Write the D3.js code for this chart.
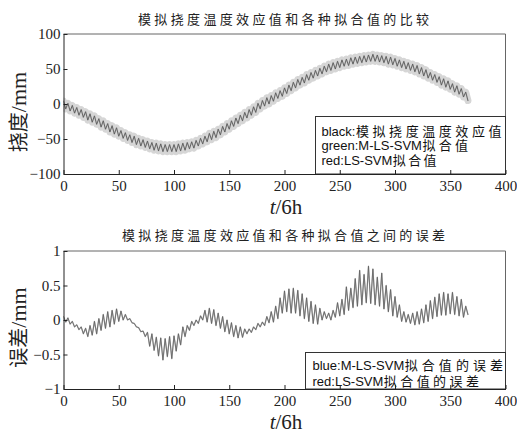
<!DOCTYPE html>
<html>
<head>
<meta charset="utf-8">
<script src="https://cdn.jsdelivr.net/npm/d3@7"></script>
<style>
  html, body { margin: 0; padding: 0; background: #fff; }
  svg { display: block; }
</style>
</head>
<body>
<svg id="chart" width="517" height="434"></svg>
<script>
// ---------------- data ----------------
// time index t (unit: 6 h), one value every 2 steps
const timeStep = 2;
// simulated deflection temperature effect (black), mm
const deflection = [
  4, -7, 1, -10, -2,
  -13, -5, -16, -8, -19,
  -11, -23, -14, -26, -17,
  -29, -21, -33, -24, -36,
  -28, -40, -31, -43, -34,
  -46, -38, -49, -41, -52,
  -44, -55, -46, -58, -49,
  -60, -51, -62, -53, -64,
  -55, -66, -56, -67, -57,
  -68, -58, -68, -58, -68,
  -58, -68, -57, -67, -56,
  -66, -55, -64, -54, -63,
  -52, -60, -49, -57, -46,
  -54, -42, -51, -39, -48,
  -36, -44, -32, -40, -28,
  -36, -24, -32, -20, -28,
  -16, -24, -12, -20, -8,
  -16, -4, -12, 1, -7,
  5, -3, 9, 0, 12,
  4, 16, 8, 19, 11,
  23, 15, 27, 19, 31,
  23, 35, 27, 38, 30,
  42, 34, 45, 37, 48,
  40, 51, 43, 54, 46,
  57, 48, 59, 50, 61,
  52, 63, 54, 64, 55,
  66, 57, 67, 58, 68,
  59, 69, 60, 70, 61,
  71, 61, 70, 60, 69,
  59, 68, 57, 67, 56,
  65, 54, 63, 52, 61,
  50, 59, 48, 57, 46,
  55, 43, 52, 40, 49,
  37, 45, 34, 42, 31,
  39, 27, 36, 24, 33,
  21, 29, 17, 26, 14,
  22, 10, 17, 5
];
// M-LS-SVM (green) and LS-SVM (red) fits coincide with the simulated values at this scale
const fitMLSSVM = deflection;
const fitLSSVM = deflection;

// errors between simulated values and fits, mm
const errorValues = [
  0.05, -0.03, 0.03, -0.06, -0.02,
  -0.10, -0.07, -0.14, -0.10, -0.20,
  -0.12, -0.24, -0.08, -0.22, -0.02,
  -0.20, 0.02, -0.15, 0.08, -0.12,
  0.12, -0.10, 0.14, -0.06, 0.16,
  -0.02, 0.13, 0.00, 0.08, 0.00,
  0.02, -0.04, -0.05, -0.10, -0.11,
  -0.17, -0.16, -0.24, -0.18, -0.38,
  -0.20, -0.44, -0.25, -0.52, -0.26,
  -0.58, -0.27, -0.53, -0.24, -0.56,
  -0.23, -0.45, -0.20, -0.36, -0.10,
  -0.24, -0.08, -0.15, -0.02, -0.08,
  0.00, -0.05, 0.06, 0.00, 0.14,
  -0.03, 0.17, -0.05, 0.15, -0.08,
  0.10, -0.12, 0.05, -0.17, 0.00,
  -0.20, -0.04, -0.24, -0.08, -0.26,
  -0.10, -0.25, -0.13, -0.20, -0.13,
  -0.18, -0.10, -0.14, -0.05, -0.10,
  -0.03, -0.08, 0.05, -0.04, 0.12,
  -0.03, 0.20, 0.02, 0.32, 0.10,
  0.42, 0.12, 0.45, 0.10, 0.46,
  0.10, 0.43, 0.06, 0.38, 0.02,
  0.32, -0.02, 0.27, -0.05, 0.22,
  -0.06, 0.17, 0.00, 0.12, 0.02,
  0.10, 0.00, 0.14, 0.04, 0.25,
  0.06, 0.30, 0.08, 0.48, 0.14,
  0.46, 0.18, 0.60, 0.20, 0.72,
  0.22, 0.66, 0.25, 0.78, 0.24,
  0.74, 0.22, 0.62, 0.20, 0.68,
  0.16, 0.50, 0.12, 0.44, 0.06,
  0.34, 0.04, 0.22, -0.02, 0.12,
  -0.03, 0.08, -0.05, 0.10, -0.07,
  0.12, -0.06, 0.16, -0.04, 0.22,
  -0.02, 0.28, 0.02, 0.33, 0.05,
  0.38, 0.07, 0.40, 0.07, 0.38,
  0.09, 0.40, 0.08, 0.34, 0.06,
  0.30, 0.04, 0.20, 0.08
];

const xTicks = [0, 50, 100, 150, 200, 250, 300, 350, 400];
const yTicksTop = [-100, -50, 0, 50, 100];
const yTicksBottom = [-1, -0.5, 0, 0.5, 1];

const title1 = "模拟挠度温度效应值和各种拟合值的比较";
const title2 = "模拟挠度温度效应值和各种拟合值之间的误差";
const legendTop = [
  ["black:", "模拟挠度温度效应值"],
  ["green:M-LS-SVM", "拟合值"],
  ["red:LS-SVM", "拟合值"]
];
const legendBottom = [
  ["blue:M-LS-SVM", "拟合值的误差"],
  ["red:LS-SVM", "拟合值的误差"]
];

// ---------------- drawing ----------------
const SERIF = '"Liberation Serif", "Times New Roman", serif';
const SANS = '"Liberation Sans", Arial, sans-serif';
const CJK = '"Noto Sans CJK SC", sans-serif';

const svg = d3.select("#chart");
svg.append("rect").attr("width", 517).attr("height", 434).attr("fill", "#fff");

const x = d3.scaleLinear().domain([0, 400]).range([63.5, 505.5]);

function panel(opts) {
  const { yDomain, yRange, yTicks, series, title, titleY, titleSpan, ylabel, ylabelY,
          xlabelY, legend, legendBox, legendRows, legendEnds, legendTextX } = opts;
  const y = d3.scaleLinear().domain(yDomain).range(yRange);
  const g = svg.append("g");

  // title
  g.append("text")
    .attr("x", titleSpan[0]).attr("y", titleY)
    .style("font-family", CJK).style("font-size", "13px")
    .attr("fill", "#222")
    .attr("textLength", titleSpan[1] - titleSpan[0]).attr("lengthAdjust", "spacing")
    .text(title);

  // series
  const clipId = "clip" + Math.round(titleY);
  svg.append("clipPath").attr("id", clipId).append("rect")
    .attr("x", x.range()[0]).attr("y", yRange[1])
    .attr("width", x.range()[1] - x.range()[0]).attr("height", yRange[0] - yRange[1]);
  series.forEach(s => {
    const line = d3.line().x((d, i) => x(i * timeStep)).y(d => y(d));
    g.append("path")
      .attr("clip-path", `url(#${clipId})`)
      .attr("d", line(s.values))
      .attr("fill", "none")
      .attr("stroke", s.color)
      .attr("stroke-width", s.width)
      .attr("stroke-linejoin", "round")
      .attr("stroke-linecap", "round");
  });

  // box (top/right)
  g.append("path")
    .attr("d", `M${x.range()[0]},${yRange[1]}H${x.range()[1]}V${yRange[0]}`)
    .attr("fill", "none").attr("stroke", "#666").attr("stroke-width", 1);

  // legend: one text block, each row a Latin part and a CJK part
  const lb = g.append("g");
  lb.append("rect")
    .attr("x", legendBox[0]).attr("y", legendBox[1])
    .attr("width", legendBox[2]).attr("height", legendBox[3])
    .attr("fill", "#fff").attr("stroke", "#333").attr("stroke-width", 1);
  const lt = lb.append("text").style("font-size", "13px").attr("fill", "#111");
  legend.forEach((row, i) => {
    const a = lt.append("tspan")
      .attr("x", legendTextX).attr("y", legendRows[i])
      .style("font-family", SANS)
      .text(row[0]);
    const w = a.node().getComputedTextLength();
    const start = legendTextX + w + 0.5;
    lt.append("tspan")
      .attr("x", start).attr("y", legendRows[i])
      .style("font-family", CJK)
      .attr("textLength", legendEnds[i] - start).attr("lengthAdjust", "spacing")
      .text(row[1]);
  });

  // axes
  const xAxis = d3.axisBottom(x).tickValues(xTicks).tickSizeInner(-4).tickSizeOuter(0)
    .tickPadding(6).tickFormat(d3.format("d"));
  const xg = g.append("g").attr("transform", `translate(0,${yRange[0]})`).call(xAxis);
  const yAxis = d3.axisLeft(y).tickValues(yTicks).tickSizeInner(-4).tickSizeOuter(0)
    .tickPadding(3).tickFormat(d => (d === 0 ? "0" : d3.format("")(d)));
  const yg = g.append("g").attr("transform", `translate(${x.range()[0]},0)`).call(yAxis);
  [xg, yg].forEach(ax => {
    ax.attr("font-family", SERIF).attr("font-size", 15);
    ax.select(".domain").attr("stroke", "#222");
    ax.selectAll(".tick line").attr("stroke", "#222");
    ax.selectAll(".tick text")
      .style("font-family", SERIF).style("font-size", "15px").attr("fill", "#222");
  });

  // x label
  const xl = g.append("text")
    .attr("x", 286).attr("y", xlabelY)
    .attr("text-anchor", "middle")
    .style("font-family", SERIF).style("font-size", "21px").attr("fill", "#222");
  xl.append("tspan").style("font-style", "italic").text("t");
  xl.append("tspan").text("/6h");

  // y label
  const yl = g.append("text")
    .attr("transform", `translate(26,${ylabelY}) rotate(-90)`)
    .attr("text-anchor", "middle")
    .style("font-size", "22px").attr("fill", "#222");
  yl.append("tspan").style("font-family", CJK).style("font-size", "20px").text(ylabel[0]);
  yl.append("tspan").style("font-family", SERIF).text(ylabel[1]);
}

panel({
  yDomain: [-100, 100], yRange: [174, 34], yTicks: yTicksTop,
  series: [
    { values: fitMLSSVM, color: "#d6d6d6", width: 7 },
    { values: fitLSSVM, color: "#c4c4c4", width: 1.5 },
    { values: deflection, color: "#5a5a5a", width: 0.9 }
  ],
  title: title1, titleY: 23.5, titleSpan: [138, 429],
  ylabel: ["挠度", "/mm"], ylabelY: 112,
  xlabelY: 214,
  legend: legendTop, legendBox: [315.5, 116.5, 190, 57.5],
  legendRows: [135.5, 150, 164.5], legendEnds: [501.5, 468, 436.5], legendTextX: 321.5
});

panel({
  yDomain: [-1, 1], yRange: [389, 251], yTicks: yTicksBottom,
  series: [
    { values: errorValues, color: "#adadad", width: 1.3 },
    { values: errorValues, color: "#5a5a5a", width: 0.7 }
  ],
  title: title2, titleY: 240, titleSpan: [122, 445],
  ylabel: ["误差", "/mm"], ylabelY: 327.5,
  xlabelY: 429,
  legend: legendBottom, legendBox: [305.5, 352.5, 200, 36.5],
  legendRows: [369.5, 386], legendEnds: [503, 479], legendTextX: 312.5
});
</script>
</body>
</html>
